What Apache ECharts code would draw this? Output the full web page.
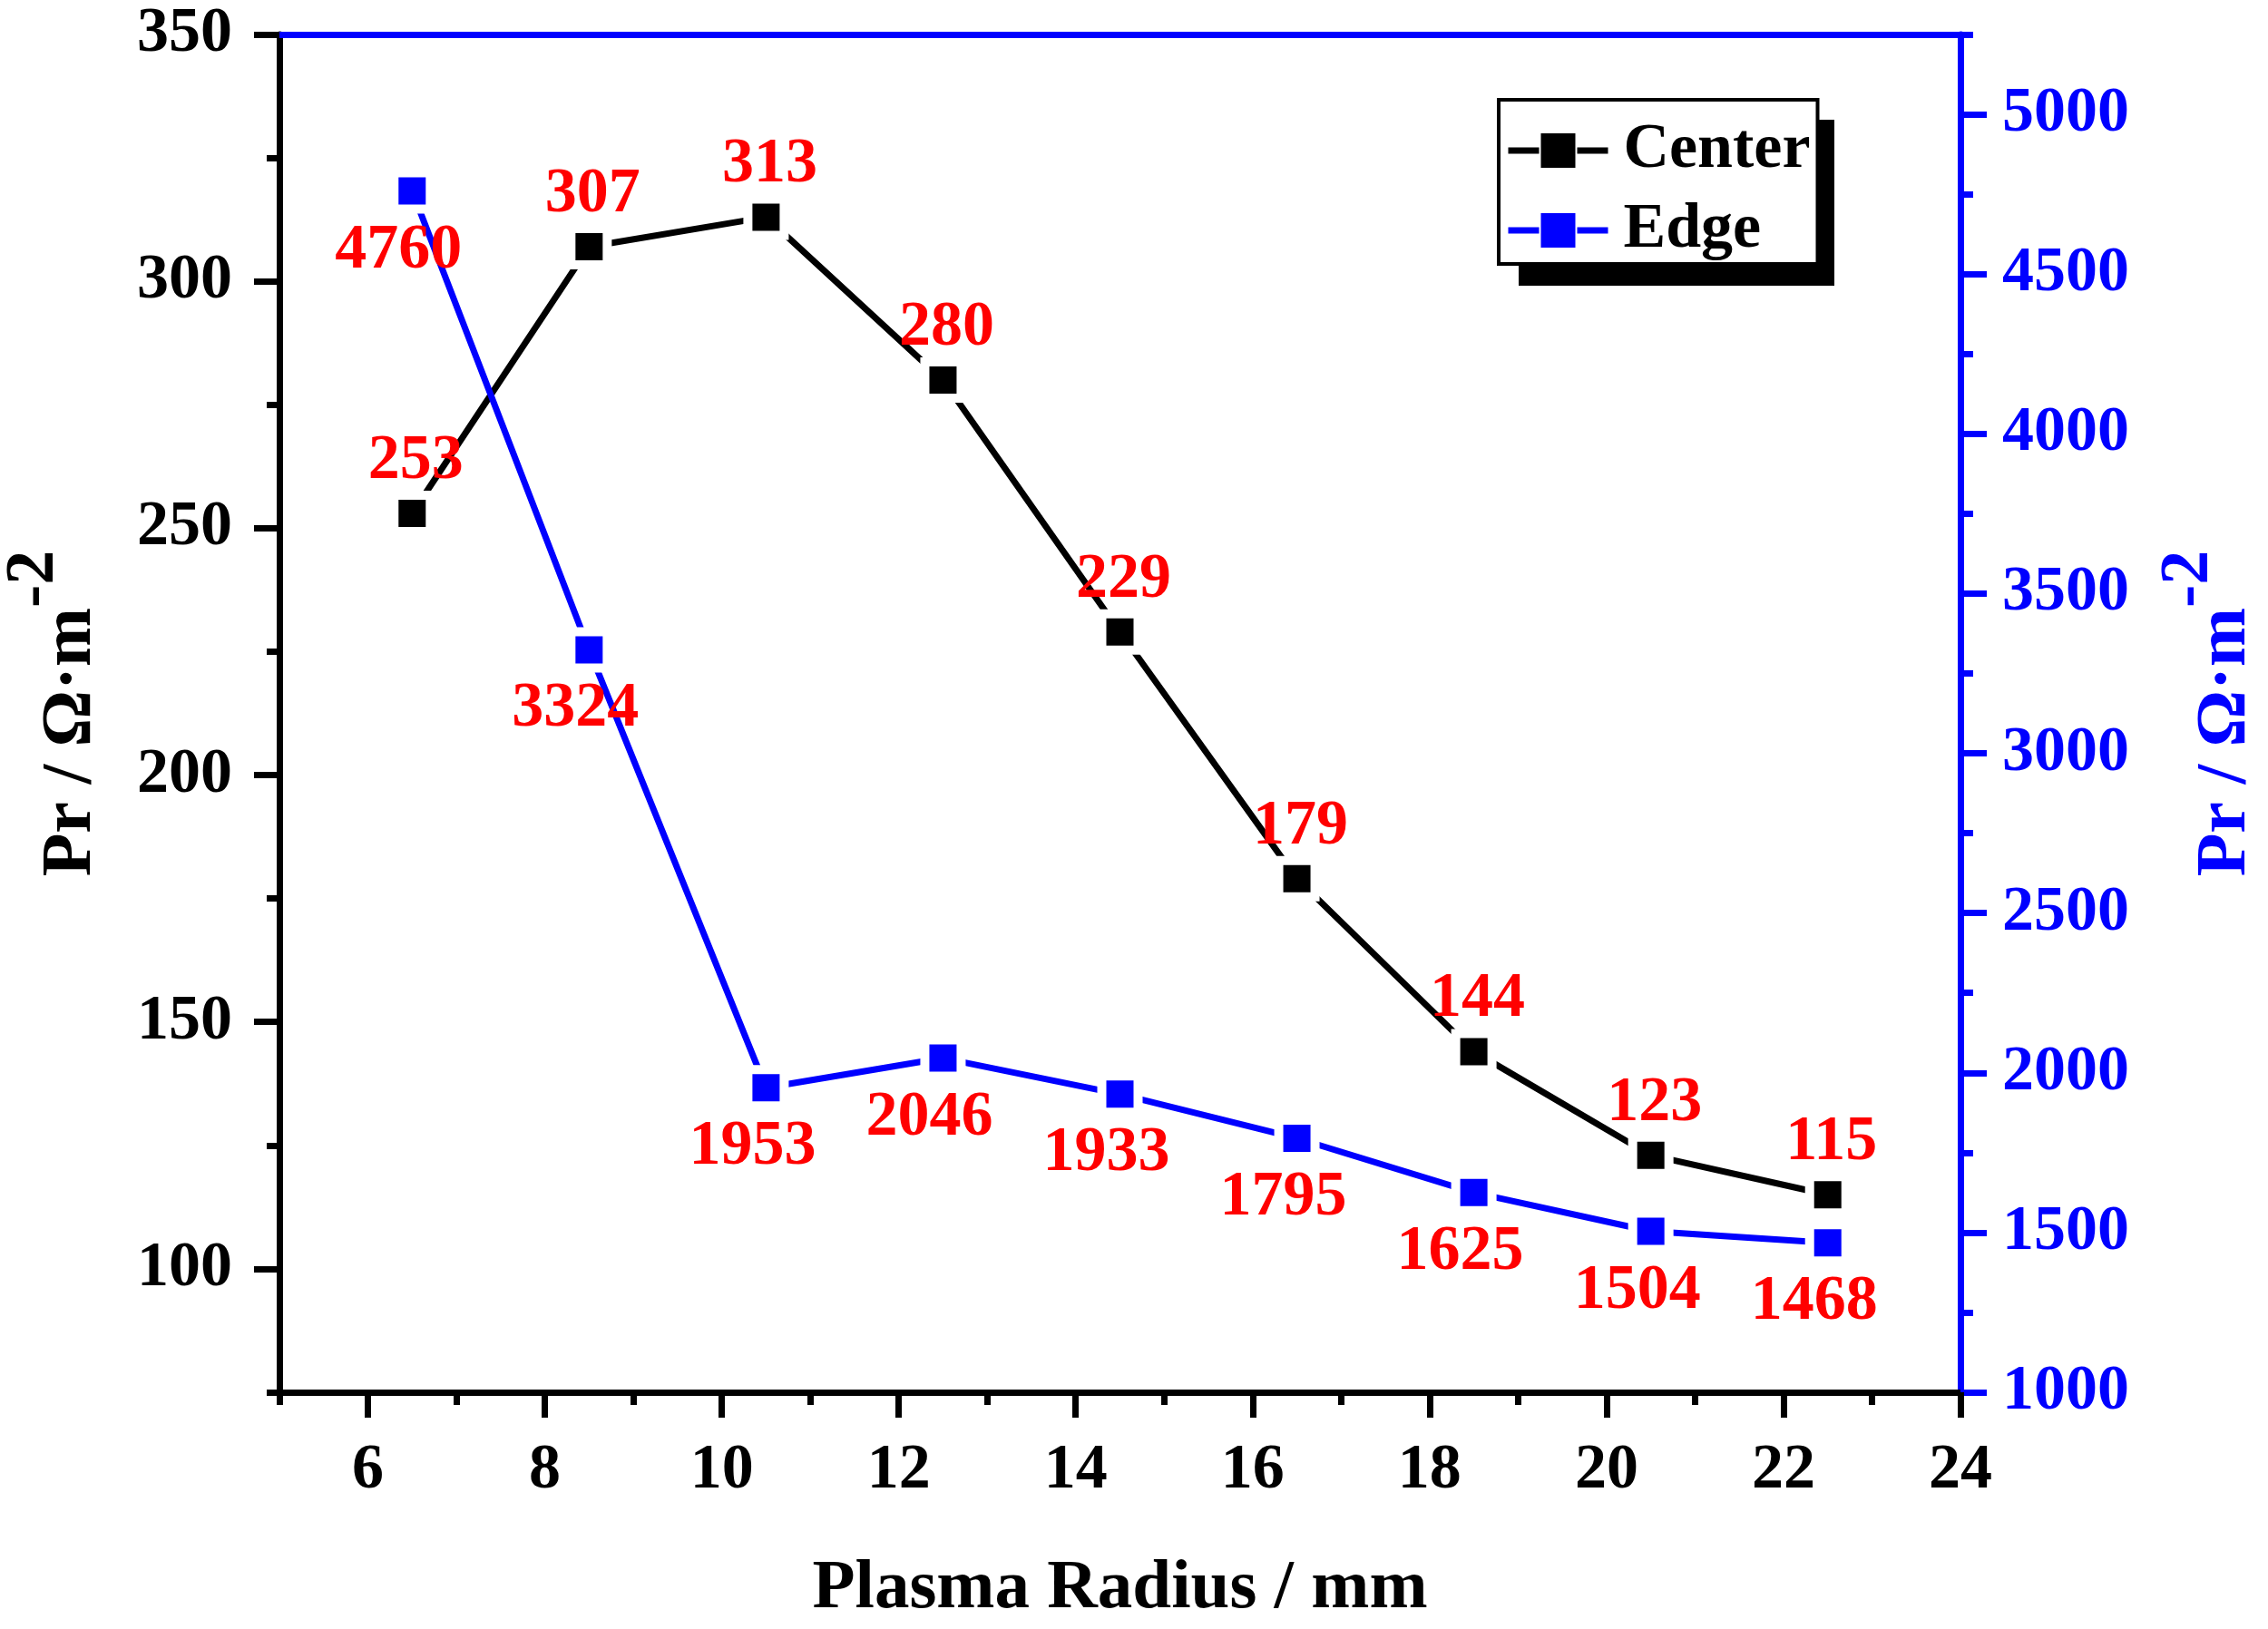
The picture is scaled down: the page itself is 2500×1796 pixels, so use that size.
<!DOCTYPE html>
<html>
<head>
<meta charset="utf-8">
<script src="https://cdn.jsdelivr.net/npm/echarts@6/dist/echarts.min.js"></script>
<style>
  html, body { margin: 0; padding: 0; background: #fff; }
  #chart { width: 2500px; height: 1796px; }
</style>
</head>
<body>
<div id="chart"></div>
<script>
// plasma radius (mm)
const radius = [6.5, 8.5, 10.5, 12.5, 14.5, 16.5, 18.5, 20.5, 22.5]
const centerVals = [253, 307, 313, 280, 229, 179, 144, 123, 115]
const edgeVals = [4760, 3324, 1953, 2046, 1933, 1795, 1625, 1504, 1468]

const xMajor = [6, 8, 10, 12, 14, 16, 18, 20, 22, 24]
const xMinor = [5, 7, 9, 11, 13, 15, 17, 19, 21, 23]
const leftMajor = [100, 150, 200, 250, 300, 350]
const leftMinor = [75, 125, 175, 225, 275, 325]
const rightMajor = [1000, 1500, 2000, 2500, 3000, 3500, 4000, 4500, 5000]
const rightMinor = [1250, 1750, 2250, 2750, 3250, 3750, 4250, 4750, 5250]

const FONT = "'Times New Roman', 'Liberation Serif', serif"
const BLUE = '#0000ff'

const chart = echarts.init(document.getElementById('chart'))

function unitName(color) {
  return {
    fontFamily: FONT,
    fontWeight: 'bold',
    fontSize: 78,
    color,
    rich: {
      a: { fontFamily: FONT, fontWeight: 'bold', fontSize: 78, color, lineHeight: 80, verticalAlign: 'bottom' },
      b: { fontFamily: FONT, fontWeight: 'bold', fontSize: 76, color, lineHeight: 80, verticalAlign: 'bottom', padding: [0, 0, 42, 0] },
    },
  }
}

function tickAxis(common, values, len, color, labelMargin) {
  return Object.assign({}, common, {
    splitLine: { show: false },
    axisTick: {
      show: true,
      inside: false,
      length: len,
      customValues: values,
      lineStyle: { color, width: 7 },
    },
    axisLabel: labelMargin
      ? {
          show: true,
          customValues: values,
          fontFamily: FONT,
          fontWeight: 'bold',
          fontSize: 70,
          color,
          margin: labelMargin,
          formatter: (v) => String(v),
        }
      : { show: false },
  })
}

const grid = { left: 308, right: 339, top: 38, bottom: 261, containLabel: false, outerBoundsMode: 'none' }

const xBase = { type: 'value', min: 5, max: 24, gridIndex: 0 }
const yLeftBase = { type: 'value', min: 75, max: 350, position: 'left' }
const yRightBase = { type: 'value', min: 1000, max: 5250, position: 'right' }

// legend box sits on a hard offset shadow, Origin style
const legendBox = { x: 1652, y: 110, w: 348, h: 183 }

const option = {
  backgroundColor: '#fff',
  animation: false,
  grid,
  graphic: [
    {
      type: 'rect',
      z: 90,
      shape: { x: legendBox.x + 22, y: legendBox.y + 22, width: legendBox.w, height: legendBox.h },
      style: { fill: '#000' },
    },
  ],
  legend: {
    left: legendBox.x,
    top: legendBox.y,
    orient: 'vertical',
    z: 100,
    itemWidth: 110,
    itemHeight: 50,
    itemGap: 18,
    padding: [21, 8, 2, 7],
    backgroundColor: '#fff',
    borderColor: '#000',
    borderWidth: 4,
    borderRadius: 0,
    lineStyle: { width: 7 },
    textStyle: { fontFamily: FONT, fontWeight: 'bold', fontSize: 70, color: '#000', padding: [0, 0, 0, 12] },
    data: ['Center', 'Edge'],
  },
  xAxis: [
    Object.assign(tickAxis(xBase, xMajor, 28, '#000', 52), {
      position: 'bottom',
      axisLine: { show: true, onZero: false, lineStyle: { color: '#000', width: 7 } },
      name: 'Plasma Radius / mm',
      nameLocation: 'middle',
      nameGap: 179,
      nameTextStyle: { fontFamily: FONT, fontWeight: 'bold', fontSize: 77, color: '#000' },
    }),
    Object.assign(tickAxis(xBase, xMinor, 14, '#000', 0), {
      position: 'bottom',
      axisLine: { show: false, onZero: false },
    }),
    Object.assign({}, xBase, {
      position: 'top',
      axisLine: { show: true, onZero: false, lineStyle: { color: BLUE, width: 7 } },
      axisTick: { show: false },
      axisLabel: { show: false },
      splitLine: { show: false },
    }),
  ],
  yAxis: [
    Object.assign(tickAxis(yLeftBase, leftMajor, 28, '#000', 52), {
      axisLine: { show: true, onZero: false, lineStyle: { color: '#000', width: 7 } },
      name: '{a|Pr / Ω·m}{b|-2}',
      nameLocation: 'middle',
      nameGap: 190,
      nameTextStyle: unitName('#000'),
    }),
    Object.assign(tickAxis(yLeftBase, leftMinor, 14, '#000', 0), {
      axisLine: { show: false, onZero: false },
    }),
    Object.assign(tickAxis(yRightBase, rightMajor, 29, BLUE, 46), {
      axisLine: { show: true, onZero: false, lineStyle: { color: BLUE, width: 7 } },
      name: '{a|Pr / Ω·m}{b|-2}',
      nameLocation: 'middle',
      nameGap: 252,
      nameTextStyle: unitName(BLUE),
    }),
    Object.assign(tickAxis(yRightBase, rightMinor, 14, BLUE, 0), {
      axisLine: { show: false, onZero: false },
    }),
  ],
  series: [
    {
      name: 'Center',
      type: 'line',
      xAxisIndex: 0,
      yAxisIndex: 0,
      data: radius.map((r, i) => [r, centerVals[i]]),
      symbol: 'rect',
      symbolSize: 40,
      lineStyle: { color: '#000', width: 7 },
      itemStyle: { color: '#000', borderColor: '#fff', borderWidth: 10 },
      label: {
        show: true,
        position: 'inside',
        offset: [4, -57],
        fontFamily: FONT,
        fontWeight: 'bold',
        fontSize: 70,
        color: '#ff0000',
        formatter: (p) => String(p.value[1]),
      },
      z: 3,
    },
    {
      name: 'Edge',
      type: 'line',
      xAxisIndex: 0,
      yAxisIndex: 2,
      data: radius.map((r, i) => [r, edgeVals[i]]),
      symbol: 'rect',
      symbolSize: 40,
      lineStyle: { color: BLUE, width: 7 },
      itemStyle: { color: BLUE, borderColor: '#fff', borderWidth: 10 },
      label: {
        show: true,
        position: 'inside',
        offset: [-15, 66],
        fontFamily: FONT,
        fontWeight: 'bold',
        fontSize: 70,
        color: '#ff0000',
        formatter: (p) => String(p.value[1]),
      },
      z: 4,
    },
  ],
}

chart.setOption(option)
</script>
</body>
</html>
